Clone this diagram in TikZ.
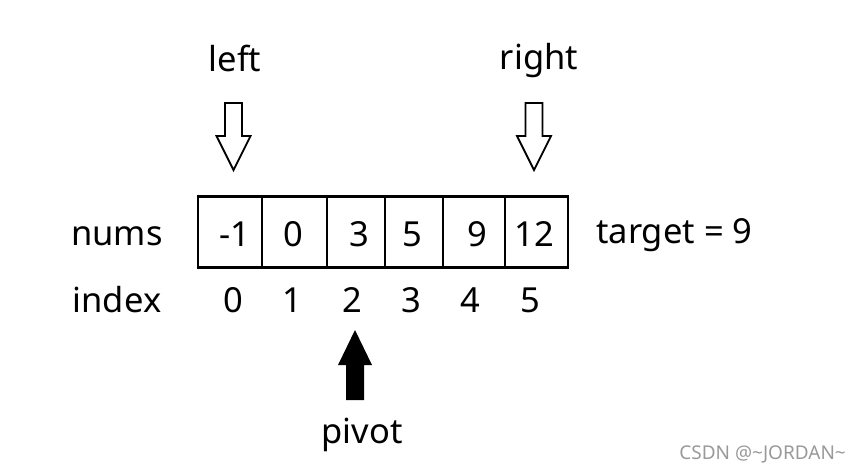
\documentclass[tikz,border=0pt]{standalone}
\usepackage{fontspec}
\setmainfont{Noto Sans}

\begin{document}
\begin{tikzpicture}[x=1pt,y=-1pt,font=\fontsize{34.5}{40}\selectfont]
    \tikzstyle{cell}=[rectangle,draw=black,line width=2.6pt,minimum height=71pt,inner sep=0pt]
    \tikzstyle{label}=[anchor=base,inner sep=0pt]
    \tikzstyle{pointer}=[draw=black,line width=1.8pt,line join=miter]

    \useasboundingbox (0,0) rectangle (861,472);

    % Draw the array cells
    \foreach \name/\cx/\w in {0/230/64,1/294.5/65,2/356/58,3/414/58,4/474/62,5/536.5/63}
        \node[cell,minimum width=\w pt] (C-\name) at (\cx,232) {};

    % Values and indices
    \foreach \name/\x/\v in {0/235/-1,1/293/0,2/359/3,3/412/5,4/477/9,5/534/12}
        \node[label] (V-\name) at (\x,246.5) {\v};
    \foreach \name/\x in {0/233,1/292,2/352,3/411,4/470,5/530}
        \node[label] (I-\name) at (\x,312.5) {\name};

    % Row names and target
    \node[label] (nums) at (117,245.5) {nums};
    \node[label] (idx) at (117,312.5) {index};
    \node[label,anchor=base west] (target) at (596,243) {target = 9};

    % Draw the hollow pointers
    \foreach \x in {233.5,534}
        \draw[pointer] (\x-8.5,103) -- (\x+8.5,103) -- (\x+8.5,136) -- (\x+17,136)
            -- (\x,170) -- (\x-17,136) -- (\x-8.5,136) -- cycle;
    \node[label] (left) at (235,71) {left};
    \node[label] (right) at (539,69) {right};

    % Draw the pivot pointer
    \fill[black] (346,400) -- (364,400) -- (364,365) -- (372,365) -- (355,330)
        -- (338,365) -- (346,365) -- cycle;
    \node[label] (pivot) at (362,443) {pivot};

    \node[label,anchor=base east,text=black!40,font=\fontsize{19}{22}\selectfont] (mark) at (846,459) {CSDN @\textasciitilde JORDAN\textasciitilde};
\end{tikzpicture}
\end{document}
